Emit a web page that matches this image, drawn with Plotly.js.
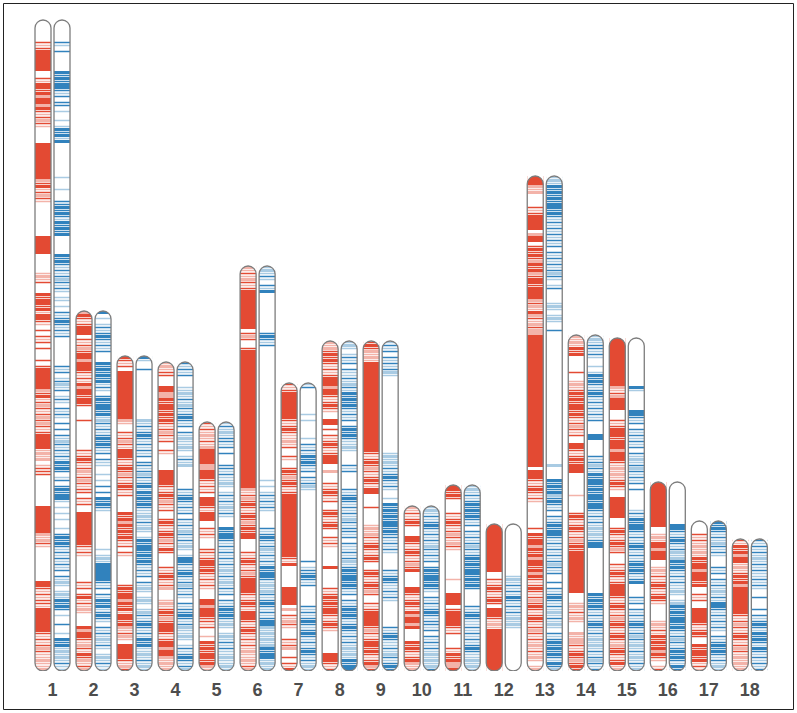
<!DOCTYPE html>
<html><head><meta charset="utf-8">
<script src="https://cdn.plot.ly/plotly-3.0.1.min.js"></script>
<style>html,body{margin:0;padding:0;background:#fff}#chart{width:797px;height:713px}</style>
</head><body><div id="chart"></div>
<script>
// Chromosome names and lengths (in bins of the ideogram scale, top -> bottom)
const chromosomes = ['1','2','3','4','5','6','7','8','9','10','11','12','13','14','15','16','17','18'];
const chromLengths = [217,120,105,103,83,135,96,110,110,55,62,49,165,112,111,63,50,44];

// Band patterns read top -> bottom, run-length coded per bin:
// '#' solid dark, '+' solid light, '|' dark line, ':' light line, '.' empty
const redBands = [
"7.|:|7#2.|:##|#+##+#|:|+|:5.12#+|#:|+|:11.6#6.:+:|3.#|##|#:##|:.|.|:|.|3.|.|7#+|#:|+|:|+|+|:|5#:+:+.:|||10.9#+:+|:11.##|:|:||:8#|:|:|+|::+::+",
"+#|:|###.|:|+|##+###|:|:#+##|##|4.|9.|:|#|:|+:|+|:||.|:|..11#|:|:8.|:|.|#:|:+:4.#+##|:+|:#|+:|+",
"#|:|.16#+:..|:|+|:###|:|#|+|:|#|:|.4.#|#+#|#|#|:|.|:9.|#|##+#|#:##|#+:|+:.5#|:+|",
":+:||3.##++#|##|#|#|:|+|:|..|:5.5#|:|#|+|:|..|#|:|#|+|:#|4.|:|#|:|+3.:+:|#|+|###|:|##+##+:+:+",
"|:|:+:|:+5#++###|:|:|.###|:###..|:|:...||:|##|#|:|:|:...##+###||:|..:.#|#|##|#+:",
"+:|:+|:|#12#.|+|..|#45#+:|+|#|:|#|+|#|##....|:|#|:|+|#####|:|#|:###|:|#|:|:|:+::+:|+",
"|:|9#|:|#|::+:|..|:..|#|+|#|:|21#|:#.6.6#.+.|:+|:...|:|+..|.|:#",
"+:+|#|#|:|:|###+##|:|#|:..##.|.|:|#|:|###..+...|:|#|:|..|#|:|#|..|:|:6.#.5.|:|#|#|##|:|#|:7.###|:|",
"|#|+:+:30#|:|#|+|:|#|:##....|5.:+:+|:|#|:|#|..|#|:|#|+|..|:|#####|+|:|##|#|:|#+|",
"+:|:|#|...##|:|#|:|+|#5.##|:|#|:#+##+#4.#|#|:|#+:+",
"##|#|4.|:|#|:|+|:+|:9.:4.####.|#####|:|4.|:#|#++#",
"16#..|:|#|:|#|.###|:+:14#",
"###+:+4.|:|#####.+##.|#|#|+#|#+|##|####+|+:#+|:+|++44#.###|:|#|:|:8.|.#|##+#|#+##|#+#|:|#|:|+|#|:|#|:|+|:|:+:|:+:.:+",
"+:+:#|#5.|..:+:|#|#|##|#|:|+|:|..##|:|#|###7.:5.|#|:|#|:|+|#|14#3.:+:|:+:3.+:++|:|#|+|#|",
"16#+:|+####3.|:|###|###+###|:+:+:|#|:..7#3.|#|:|#|+|3.|:|#|:|####|:|#|:|+|#|:|#|:+|#|:|#:+",
"15#..:+:##+###..:+:|:|#|:|#|:5.:+:|:#|#|#+#|:.:|",
"4.|:|:+:+:#|##+###|#..|:|..#####|:|#|..#|##|#:|:",
"|:#|#+##:+:|#|#+#8#|:|+|:|#|:|+|:+:+:+"
];
const blueBands = [
"7.|:.|.5.#|#|##|:|.||.:..:.:#|#:#11.:...:...||#|#|:#|#|#.5.#|#|:|:|+|:|:.::.:.|:|#|:|:|..7.|:|.:|+:|.:|:.|:|:.|.|.|:+|:|:|:#|#|.:|.|#|##:.:.:.:..:.|#|#|:|:|:|:|.|:+:.:+:#|#|.:..|..:.#|#:+:+:|::",
"#.:.:|:|#|:|:|...#|#|#|#:|:.|#|##|#:+|:|:|#|#|:|.|::..:.:.|.|.#|#|:12.:.:+:6#|:|.|:#|#:|#|:.|:|:+:|:.:+:|::",
"#:..|16.+:|:|#|:|:|:|.||:|+|:|#:#|#|#|::+:|:+:.:#|##|#|#|:|:|.|:+:.:+:.:+|:|#|:|:#|#::+:|:+:",
"|:|:|...::+:|:+|:|#|:|.|:+::+:.:|:+7.|:|#|:|:|.|:|:+|:|:+:.:##|:|#|:|+|:|:.|:||#|:|+::+:.:|:|#|:|+",
":|:+:||:|.|...||:|::+:.:|:|:+:|:...#|##|:|:|:|:|:+:|:+:|:|.|:|#|#|:+:.:+:|:|::+::+:",
":+:|:.|:#13.|#|:|44.:.:.:|:|:|:5.|:|#|:|+:|:|:#|##|:+:+|:|#|:|:|##+:+:+:+#|##:+:+",
":|.7.:.:.4.:.|:|:#|#|:|.|:|+:.22.|.:||#|:|6.|:|:|#|:|#|:|:|#|:|:+:",
":+:.:|:|.|::|:+|:#|#|#|:|:|.|#|#|::+:4.|:|.4.|:|#|:|:|:+|:||:|.|::|:|+:|#|##|#|:|.|:|#|#|:|#|:|:|:+:+:#|##",
":|:|.|:|:|+:25.:+:+:|:|#|:|:..:.#|#|#|##|#||:|:|:5.|:|#|::|:|:8.|:|#|::|:+|:|#|",
":+:|:|#|:|:|:+|:|:|.|#|##|#|:.|:|:|#|:||:|.|:|:|:+:+:+|",
":+:|:|#|#|#|:|.|:|:|+|:|#|#|##|#|#|5.|:|#|::|:|:|:|#|::+:+:",
"17.:+:|:|:#|:|:|:+:+:14.",
":+:#|#|#|##|#|:|:|:|:|:|.|:|:|:|+|:.:|4.:+:.:+:..|44.+.3.#|#|#+|#|:|.|:|#|##|:|:|:|:|+|:|..|.|:|#|:|:+:|:+:.|:|#|#|#|:#|+",
":+:||:|:..:.:#|#|:|#|:|:|:|:|4.##5.|:|+|:#|##|#|##|##|:|:|:+:+:|##15.#|#|#|:|:|#|:|:+:+:|:|+|:|",
"16.#:6.##|:|.|:|:|:|.|:+:|+|:|:|.|6.:|:#|##|:|:|#|:|:|#|#|:|#4.|:|.|:|:|#|:|+|:+:|:+:|:+",
"14.##|:|#|:|+:+#|#|:|:|::+:.:+#|#|##|#|:|+|:|#|#|:#|",
"#|#|:|:+|:|:...|:|.|:|:+:|:##|:|:|:|:.|:|#|#|:|:+:",
"|:|:|:+:|:|::|:|:..|...|.|:|#|:#|#|:#|:|:|:|"
];

const RED = [227,74,51], BLUE = [49,130,189];

// geometry in axis units
const PX_X = 41.02, PX_Y = 3;          // pixels per x unit, per y unit (bin)
const HALF_W = 8 / PX_X;               // chromatid half width
const OFFSET = 9.5 / PX_X;             // chromatid centre offset from chromosome centre
const RY = 8 / PX_Y;                   // cap radius in y units
const LINE = 0.5;                      // thickness of thin band lines (bins)

function parseBands(code){
  const out = []; const re = /(\d*)([#+|:.])/g; let m;
  while ((m = re.exec(code))) { const n = m[1] ? parseInt(m[1], 10) : 1; for (let i = 0; i < n; i++) out.push(m[2]); }
  return out;
}
function rgba(c, a){ return 'rgba(' + c[0] + ',' + c[1] + ',' + c[2] + ',' + a + ')'; }

function buildTrace(codes, col, sign){
  const xs = [], bases = [], hs = [], cols = [];
  codes.forEach((code, i) => {
    const L = chromLengths[i];
    const cx = (i + 1) + sign * OFFSET;
    const bins = parseBands(code);
    let k = 0;
    while (k < bins.length && k < L) {
      const c = bins[k];
      if (c === '#' || c === '+') {
        let k1 = k; while (k1 < bins.length && k1 < L && bins[k1] === c) k1++;
        xs.push(cx); bases.push(L - k1); hs.push(k1 - k);
        cols.push(c === '#' ? rgba(col, 1) : rgba(col, 0.42));
        k = k1; continue;
      }
      if (c === '|' || c === ':') {
        xs.push(cx); bases.push(L - k - 0.5 - LINE / 2); hs.push(LINE);
        cols.push(c === '|' ? rgba(col, 1) : rgba(col, 0.42));
      }
      k++;
    }
  });
  return { type: 'bar', x: xs, base: bases, y: hs, width: 2 * HALF_W,
    marker: { color: cols, line: { width: 0 } }, hoverinfo: 'skip', showlegend: false };
}

const traces = [buildTrace(redBands, RED, -1), buildTrace(blueBands, BLUE, 1)];

const K = 0.5523;
function f(v){ return v.toFixed(4); }
function capPaths(cx, T){
  const l = cx - HALF_W, r = cx + HALF_W;
  const top = 'M' + f(l) + ',' + f(T - RY) +
    ' C' + f(l) + ',' + f(T - RY + K * RY) + ' ' + f(cx - K * HALF_W) + ',' + f(T) + ' ' + f(cx) + ',' + f(T) +
    ' C' + f(cx + K * HALF_W) + ',' + f(T) + ' ' + f(r) + ',' + f(T - RY + K * RY) + ' ' + f(r) + ',' + f(T - RY);
  const bottom = 'L' + f(r) + ',' + f(RY) +
    ' C' + f(r) + ',' + f(RY - K * RY) + ' ' + f(cx + K * HALF_W) + ',0 ' + f(cx) + ',0' +
    ' C' + f(cx - K * HALF_W) + ',0 ' + f(l) + ',' + f(RY - K * RY) + ' ' + f(l) + ',' + f(RY) + ' Z';
  const outline = top + ' ' + bottom;
  const maskTop = top + ' L' + f(r) + ',' + f(T + 0.6) + ' L' + f(l) + ',' + f(T + 0.6) + ' Z';
  const maskBot = 'M' + f(r) + ',' + f(RY) +
    ' C' + f(r) + ',' + f(RY - K * RY) + ' ' + f(cx + K * HALF_W) + ',0 ' + f(cx) + ',0' +
    ' C' + f(cx - K * HALF_W) + ',0 ' + f(l) + ',' + f(RY - K * RY) + ' ' + f(l) + ',' + f(RY) +
    ' L' + f(l) + ',-0.6 L' + f(r) + ',-0.6 Z';
  return { outline, mask: maskTop + ' ' + maskBot };
}

const masks = [], outlines = [];
chromLengths.forEach((L, i) => {
  [-1, 1].forEach(sign => {
    const p = capPaths((i + 1) + sign * OFFSET, L);
    masks.push({ type: 'path', xref: 'x', yref: 'y', path: p.mask, fillcolor: '#ffffff', line: { width: 0 }, layer: 'above' });
    outlines.push({ type: 'path', xref: 'x', yref: 'y', path: p.outline, fillcolor: 'rgba(0,0,0,0)', line: { color: 'rgb(125,125,125)', width: 1.3 }, layer: 'above' });
  });
});

const W = 797, H = 713, B = 42, PH = H - B;
const x0 = 1 - 52.5 / PX_X, x1 = x0 + W / PX_X;
const border = { type: 'rect', xref: 'paper', yref: 'paper',
  x0: 3.5 / W, x1: 793.5 / W, y0: (PH - 709.5) / PH, y1: (PH - 3.5) / PH,
  line: { color: '#222', width: 1 }, fillcolor: 'rgba(0,0,0,0)', layer: 'above' };

const layout = {
  width: W, height: H, margin: { l: 0, r: 0, t: 0, b: B, pad: 0 },
  paper_bgcolor: '#fff', plot_bgcolor: '#fff', barmode: 'overlay', showlegend: false,
  xaxis: { range: [x0, x1], tickvals: chromosomes.map((c, i) => i + 1), ticktext: chromosomes,
    showgrid: false, zeroline: false, showline: false, ticks: '', ticklabelstandoff: 6,
    tickfont: { family: 'Liberation Sans, Arial, sans-serif', size: 18, color: '#4d4d4d', weight: 'bold' }, fixedrange: true },
  yaxis: { range: [0, PH / PX_Y], visible: false, fixedrange: true },
  shapes: masks.concat(outlines).concat([border])
};

Plotly.newPlot('chart', traces, layout, { displayModeBar: false, staticPlot: true });
</script></body></html>
